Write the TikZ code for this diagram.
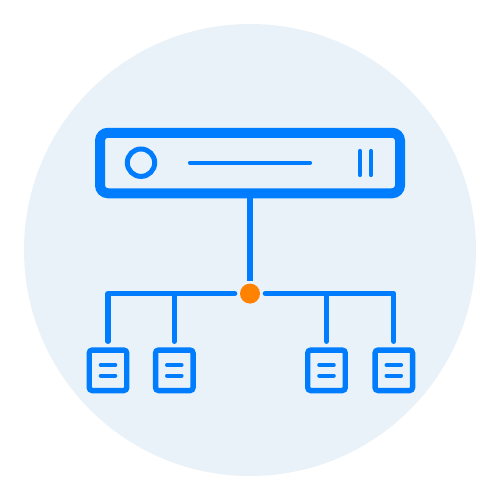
\documentclass[tikz,border=0pt]{standalone}
\definecolor{halo}{HTML}{E9F2F8}
\definecolor{netblue}{HTML}{007DFF}
\definecolor{hub}{HTML}{FF8200}
\tikzset{
  server/.style={draw=netblue,line width=10pt,rounded corners=8pt,minimum width=300pt,minimum height=60.5pt,inner sep=0pt,outer sep=5pt},
  leaf/.style={draw=netblue,line width=5.4pt,rounded corners=3pt,minimum width=37.5pt,minimum height=40.5pt,inner sep=0pt,outer sep=2.7pt},
  hubdot/.style={circle,fill=hub,minimum size=20pt,inner sep=0pt,outer sep=0pt},
  lamp/.style={circle,draw=netblue,line width=5pt,minimum size=27.4pt,inner sep=0pt},
  detail/.style={draw=netblue,line width=4.2pt,line cap=round},
  wire/.style={draw=netblue,line width=5.2pt,line cap=round,line join=round}
}
\begin{document}
\begin{tikzpicture}[x=1pt,y=-1pt]
\useasboundingbox (0,0) rectangle (500,500);
\fill[white] (0,0) rectangle (500,500);
\fill[halo] (250,250) circle[radius=226pt];

\node[server] (srv) at (250,163) {};
\node[lamp] (lmp) at (141,162.7) {};
\coordinate (slotL) at (190,162.7);
\coordinate (slotR) at (310,162.7);
\draw[detail] (slotL) -- (slotR);
\coordinate (barAt) at (360,151);
\coordinate (barAb) at (360,175);
\coordinate (barBt) at (371,151);
\coordinate (barBb) at (371,175);
\draw[detail] (barAt) -- (barAb);
\draw[detail] (barBt) -- (barBb);

\node[hubdot] (dot) at (250,293.6) {};
\node[leaf] (leafA) at (108,370.3) {};
\node[leaf] (leafB) at (174.3,370.3) {};
\node[leaf] (leafC) at (326.5,370.3) {};
\node[leaf] (leafD) at (393.8,370.3) {};

\coordinate (busL) at (108,293.6);
\coordinate (busB) at (174.3,293.6);
\coordinate (busC) at (326.5,293.6);
\coordinate (busR) at (393.8,293.6);

\draw[draw=netblue,line width=5.2pt,shorten >=3pt] (srv.south) -- (dot.north);
\draw[wire,shorten <=5.3pt,shorten >=6pt] (dot.west) -- (busL) -- (leafA.north);
\draw[wire,shorten <=5.3pt,shorten >=6pt] (dot.east) -- (busR) -- (leafD.north);
\draw[wire,shorten >=6pt] (busB) -- (leafB.north);
\draw[wire,shorten >=6pt] (busC) -- (leafC.north);

\foreach \leafname in {leafA,leafB,leafC,leafD} {
  \draw[detail] ([shift={(-7.2,-5.3)}]\leafname.center) -- ([shift={(7.2,-5.3)}]\leafname.center);
  \draw[detail] ([shift={(-7.2,5.3)}]\leafname.center) -- ([shift={(7.2,5.3)}]\leafname.center);
}
\end{tikzpicture}
\end{document}
